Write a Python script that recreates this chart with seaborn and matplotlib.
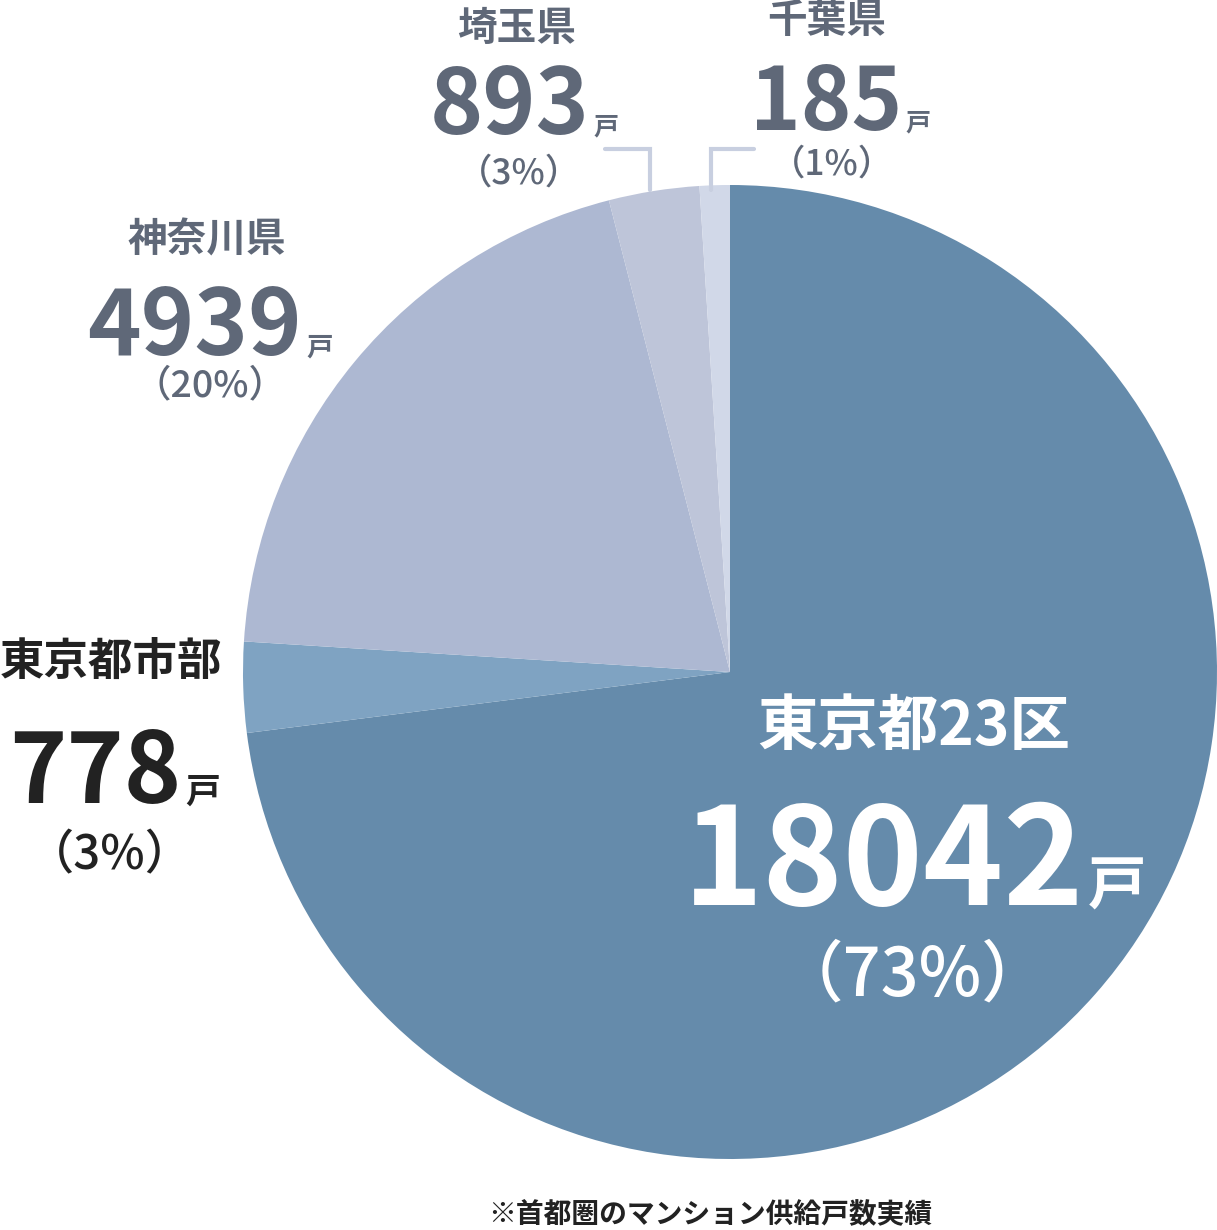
import matplotlib.pyplot as plt
import seaborn as sns

areas = ['東京都23区', '東京都市部', '神奈川県', '埼玉県', '千葉県']
units = [18042, 778, 4939, 893, 185]
shares = [73, 3, 20, 3, 1]
colors = ['#658bab', '#7fa3c2', '#adb8d2', '#bec5d9', '#d1d8e8']
note = '※首都圏のマンション供給戸数実績'

sns.set_theme(style='white')
plt.rcParams['font.family'] = ['Noto Sans CJK JP', 'DejaVu Sans']

fig = plt.figure(figsize=(12.17, 12.30), dpi=100)
ax = fig.add_axes([0, 0, 1, 1])

# wedges follow the rounded shares; pixel coordinates, y inverted so -90 = top
ax.pie(shares, colors=colors, startangle=-90, counterclock=True,
       center=(730, 672), radius=487, wedgeprops=dict(linewidth=0))
ax.set_xlim(0, 1217)
ax.set_ylim(1230, 0)
ax.set_aspect('equal')
ax.axis('off')

grey = '#5f6878'
# name (x, y, size), number right edge / baseline / size / 戸 size, share (x, y, size)
layout = [
    dict(c='white', name=(914, 727, 43.5), num=(1084, 905, 98, 42), pct=(912, 976, 48)),
    dict(c='#222222', name=(111, 662, 32), num=(181, 803, 70, 25), pct=(110, 856, 34)),
    dict(c=grey, name=(207, 240, 28.5), num=(302, 355, 65.5, 19), pct=(210, 385, 27)),
    dict(c=grey, name=(517, 28, 28.5), num=(589, 134, 65, 18), pct=(519, 174, 25.5)),
    dict(c=grey, name=(827, 20, 28.5), num=(902, 130, 62, 18), pct=(832, 165, 25.5)),
]

for area, n, s, lay in zip(areas, units, shares, layout):
    x, y, fs = lay['name']
    ax.text(x, y, area, color=lay['c'], fontsize=fs, fontweight='bold',
            ha='center', va='center')
    x, y, fs, fs2 = lay['num']
    ax.text(x, y, str(n), color=lay['c'], fontsize=fs, fontweight='bold',
            ha='right', va='baseline')
    ax.text(x + 4, y, '戸', color=lay['c'], fontsize=fs2, fontweight='bold',
            ha='left', va='baseline')
    x, y, fs = lay['pct']
    ax.text(x, y, f'（{s}%）', color=lay['c'], fontsize=fs, fontweight='medium',
            ha='center', va='center')

# leader lines for the two small slices
line_c = '#c8cfe0'
ax.plot([605, 650, 650], [149, 149, 190], color=line_c, lw=3, solid_joinstyle='miter')
ax.plot([711, 711, 754], [190, 149, 149], color=line_c, lw=3, solid_joinstyle='miter')

ax.text(710, 1215, note, color='#222222', fontsize=20, fontweight='bold',
        ha='center', va='center')

fig.savefig('out.png', dpi=100, facecolor='white')
